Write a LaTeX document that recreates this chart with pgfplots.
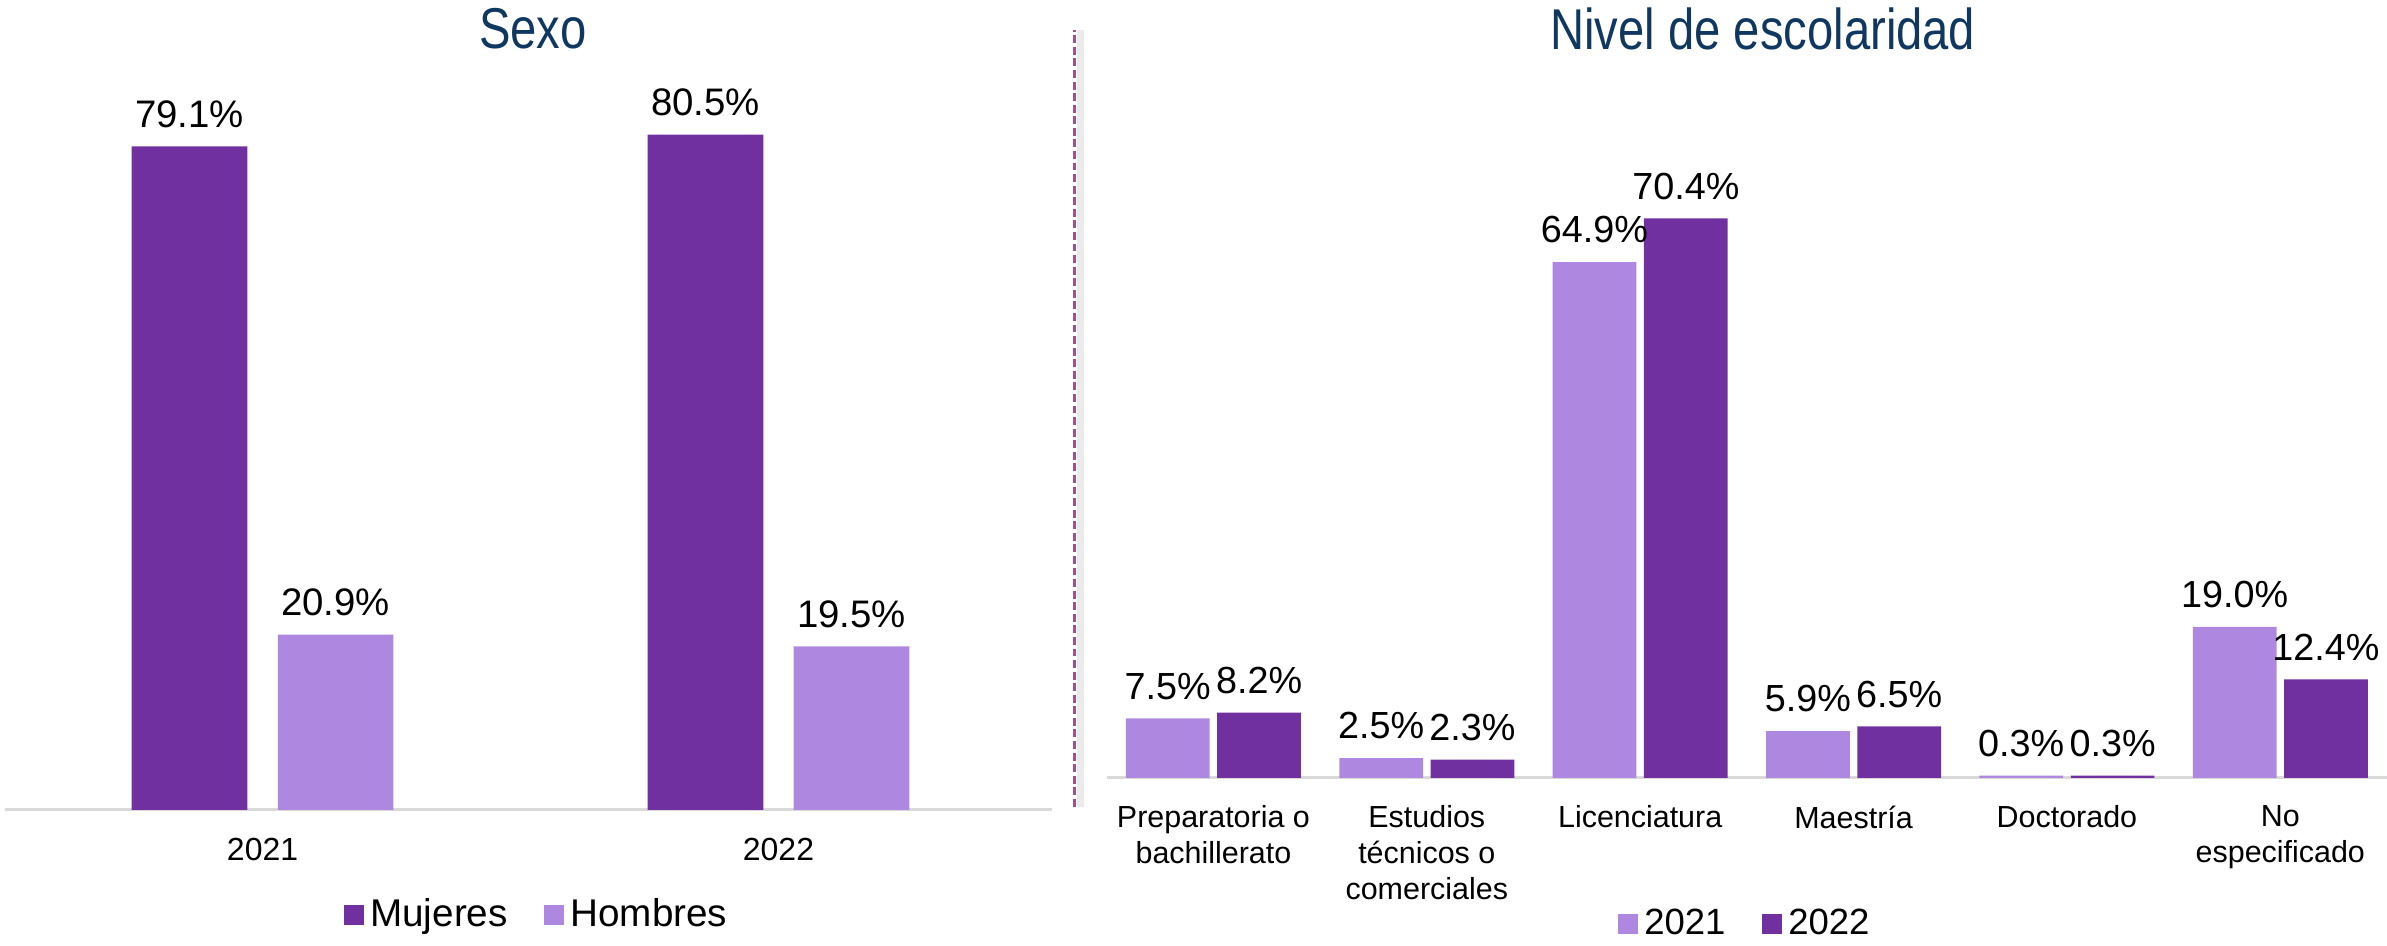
\documentclass[border=0pt]{standalone}
\usepackage{graphicx}
\usepackage{pgfplots}
\pgfplotsset{compat=1.18}
\usepackage{fontspec}
\setmainfont{Liberation Sans}
\definecolor{dpurp}{HTML}{7030A0}
\definecolor{lpurp}{HTML}{AE88E0}
\definecolor{ttl}{HTML}{0F3760}
\definecolor{divc}{HTML}{A0508C}
\definecolor{basec}{HTML}{D9D9D9}
\pgfplotsset{sqlegend/.style={legend image code/.code={\fill[##1] (0pt,-3.3pt) rectangle (6.6pt,3.3pt);}}}
\begin{document}
\begin{tikzpicture}[x=1pt,y=1pt]
\useasboundingbox (0,0) rectangle (784,310.5);
\node[ttl, font=\fontsize{15.5}{18}\selectfont] at (175,301) {\scalebox{1}[1.22]{Sexo}};
\node[ttl, font=\fontsize{15.5}{18}\selectfont] at (579,301) {\scalebox{1}[1.22]{Nivel de escolaridad}};
\draw[black!8, line width=2.2pt] (354.9,45.5) -- (354.9,300.5);
\draw[divc, line width=0.9pt, dash pattern=on 2.6pt off 1.2pt] (353,45.5) -- (353,300.5);

\begin{axis}[
 at={(1.5pt,44.5pt)}, anchor=south west,
 scale only axis, width=344pt, height=248pt,
 ybar=10pt, bar width=38pt,
 xmin=-0.5, xmax=1.53, ymin=0, ymax=90,
 axis x line=bottom, axis y line=none, ytick=\empty,
 x axis line style={basec, line width=1pt, -},
 xtick={0,1}, xticklabels={2021,2022},
 major tick length=0pt,
 xticklabel style={font=\fontsize{10.5}{12}\selectfont, inner sep=0pt, yshift=-9pt},
 nodes near coords={\pgfmathprintnumber[fixed,fixed zerofill,precision=1,assume math mode=true]{\pgfplotspointmeta}\%},
 every node near coord/.append style={font=\fontsize{12.6}{14}\selectfont, inner sep=0pt, yshift=6pt, black},
 legend style={at={(0.51,-0.139)}, anchor=center, draw=none, legend columns=-1, font=\fontsize{12.7}{14}\selectfont, /tikz/every even column/.append style={column sep=10pt}},
 clip=false,
]
\addplot[fill=dpurp, draw=none, sqlegend] coordinates {(0,79.1) (1,80.5)};
\addplot[fill=lpurp, draw=none, sqlegend] coordinates {(0,20.9) (1,19.5)};
\legend{Mujeres,Hombres}
\end{axis}

\begin{axis}[
 at={(363.5pt,55pt)}, anchor=south west,
 scale only axis, width=420.5pt, height=234.9pt,
 ybar=2.5pt, bar width=27.5pt,
 xmin=-0.5, xmax=5.5, ymin=0, ymax=90,
 axis x line=bottom, axis y line=none, ytick=\empty,
 x axis line style={basec, line width=1pt, -},
 xtick={0,1,2,3,4,5},
 xticklabels={Preparatoria o\\bachillerato, Estudios\\técnicos o\\comerciales, Licenciatura, Maestría, Doctorado, No\\especificado},
 major tick length=0pt,
 xticklabel style={align=center, font=\fontsize{10}{11.75}\selectfont, inner sep=0pt, yshift=-9pt},
 nodes near coords={\pgfmathprintnumber[fixed,fixed zerofill,precision=1,assume math mode=true]{\pgfplotspointmeta}\%},
 every node near coord/.append style={font=\fontsize{12.4}{14}\selectfont, inner sep=0pt, yshift=6pt, black},
 legend style={at={(0.5,-0.2043)}, anchor=center, draw=none, legend columns=-1, font=\fontsize{12}{14}\selectfont, /tikz/every even column/.append style={column sep=10pt}},
 clip=false,
]
\addplot[fill=lpurp, draw=none, sqlegend] coordinates {(0,7.5) (1,2.5) (2,64.9) (3,5.9) (4,0.3) (5,19.0)};
\addplot[fill=dpurp, draw=none, sqlegend] coordinates {(0,8.2) (1,2.3) (2,70.4) (3,6.5) (4,0.3) (5,12.4)};
\legend{2021,2022}
\end{axis}
\end{tikzpicture}
\end{document}
